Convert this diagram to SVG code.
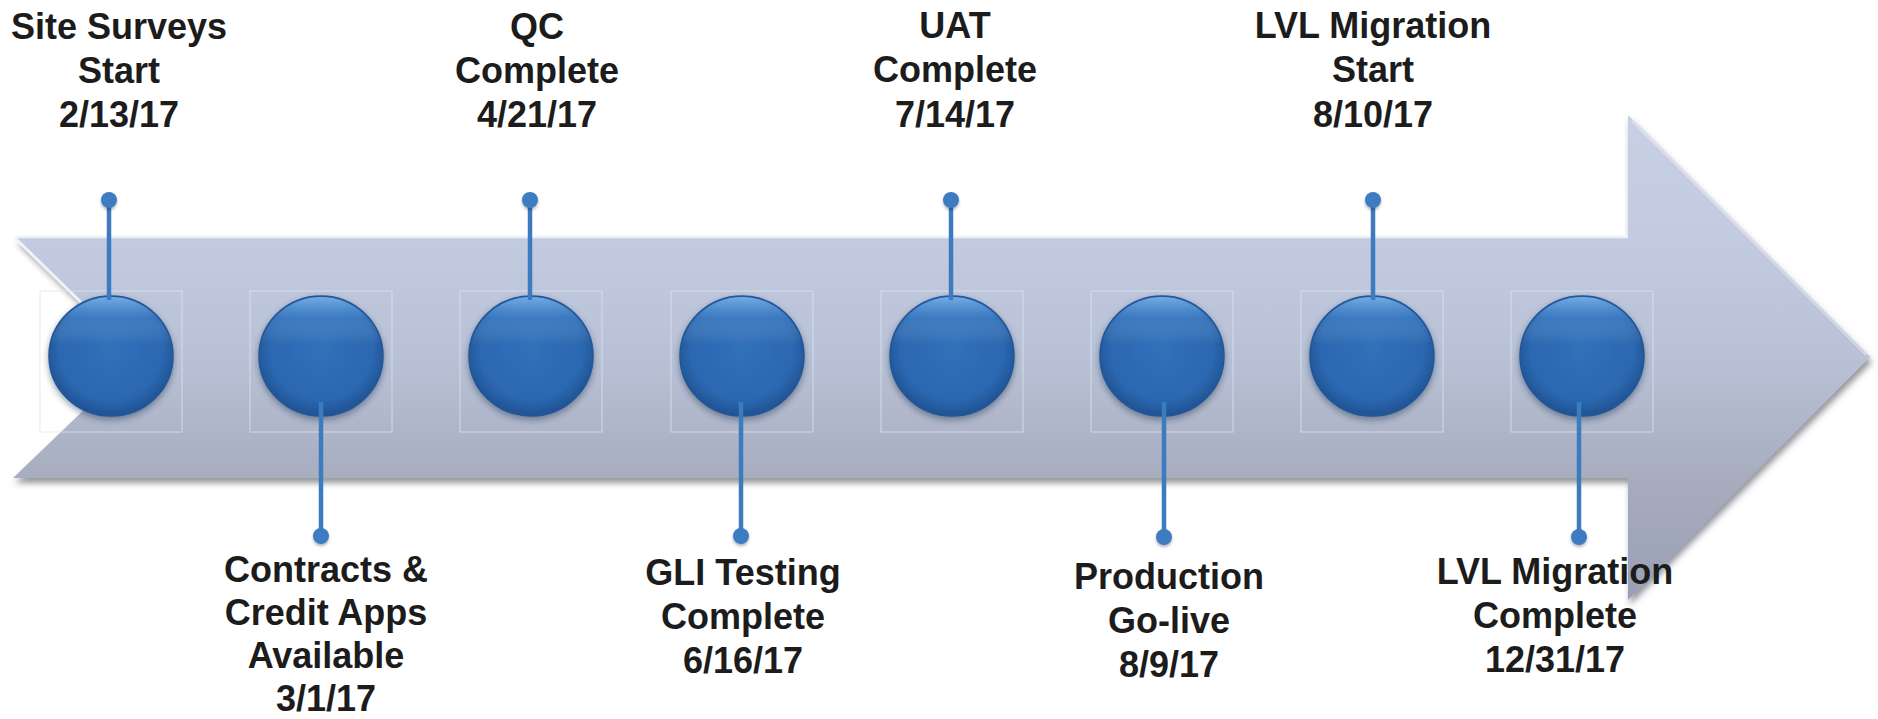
<svg xmlns="http://www.w3.org/2000/svg" width="1878" height="719" viewBox="0 0 1878 719">
<defs>
  <linearGradient id="arrowFill" x1="0" y1="115" x2="0" y2="600" gradientUnits="userSpaceOnUse">
    <stop offset="0" stop-color="#c8d0e4"/>
    <stop offset="0.25" stop-color="#c3cbe0"/>
    <stop offset="0.5" stop-color="#b9c1d6"/>
    <stop offset="0.75" stop-color="#a7adbf"/>
    <stop offset="1" stop-color="#9aa0b3"/>
  </linearGradient>
  <radialGradient id="ballFill" cx="0.5" cy="0.45" r="0.55">
    <stop offset="0" stop-color="#3170ba"/>
    <stop offset="0.75" stop-color="#2c68b1"/>
    <stop offset="1" stop-color="#1f5292"/>
  </radialGradient>
  <linearGradient id="ballShine" x1="0" y1="0" x2="0" y2="1">
    <stop offset="0" stop-color="#8cc4f5" stop-opacity="0.75"/>
    <stop offset="0.18" stop-color="#6aaaea" stop-opacity="0.25"/>
    <stop offset="0.4" stop-color="#ffffff" stop-opacity="0"/>
  </linearGradient>
  <filter id="arrowShadow" x="-5%" y="-10%" width="110%" height="125%">
    <feDropShadow dx="2" dy="5" stdDeviation="3" flood-color="#3a3f4a" flood-opacity="0.55"/>
  </filter>
  <filter id="ballShadow" x="-30%" y="-30%" width="160%" height="160%">
    <feDropShadow dx="0" dy="3" stdDeviation="3" flood-color="#1a2a45" flood-opacity="0.45"/>
  </filter>
  <filter id="pinShadow" x="-50%" y="-50%" width="200%" height="200%">
    <feDropShadow dx="0" dy="2" stdDeviation="1.5" flood-color="#000" flood-opacity="0.3"/>
  </filter>
  <style>
    .lbl { font-family: "Liberation Sans", Arial, sans-serif; font-weight: bold; font-size: 36px; fill: #1c1c1c; text-anchor: middle; }
    .frame { fill: none; stroke: #dfe4f0; stroke-width: 1; stroke-opacity: 0.75; }
    .ball { fill: url(#ballFill); stroke: #215797; stroke-width: 1.5; filter: url(#ballShadow); }
    .shine { fill: url(#ballShine); }
    .pin { stroke: #3c7bc0; stroke-width: 4.5; fill: none; }
    .dot { fill: #3c7bc0; filter: url(#pinShadow); }
  </style>
</defs>
<rect x="0" y="0" width="1878" height="719" fill="#ffffff"/>

<g id="arrow">
  <path d="M15,238 L1628,238 L1628,115 L1870,357 L1628,600 L1628,478 L13,478 L138,358 Z" fill="url(#arrowFill)" filter="url(#arrowShadow)"/>
  <path d="M15,237 L1628,237" stroke="#eef1f8" stroke-width="2.5" fill="none"/>
  <path d="M15,238 L138,358" stroke="#f4f6fb" stroke-width="3" fill="none" opacity="0.9"/>
  <path d="M1632,121 L1866,355" stroke="#f0f2fa" stroke-width="1.5" fill="none" opacity="0.6"/>
</g>

<g id="node-1">
  <rect class="frame" x="40" y="291" width="142" height="141"/>
  <ellipse class="ball" cx="111" cy="356" rx="62" ry="60"/>
  <ellipse class="shine" cx="111" cy="356" rx="61" ry="59"/>
  <text class="lbl" x="119" y="39">Site Surveys</text>
  <text class="lbl" x="119" y="83">Start</text>
  <text class="lbl" x="119" y="127">2/13/17</text>
</g>
<g id="node-2">
  <rect class="frame" x="250" y="291" width="142" height="141"/>
  <ellipse class="ball" cx="321" cy="356" rx="62" ry="60"/>
  <ellipse class="shine" cx="321" cy="356" rx="61" ry="59"/>
  <text class="lbl" x="326" y="582">Contracts &amp;</text>
  <text class="lbl" x="326" y="625">Credit Apps</text>
  <text class="lbl" x="326" y="668">Available</text>
  <text class="lbl" x="326" y="711">3/1/17</text>
</g>
<g id="node-3">
  <rect class="frame" x="460" y="291" width="142" height="141"/>
  <ellipse class="ball" cx="531" cy="356" rx="62" ry="60"/>
  <ellipse class="shine" cx="531" cy="356" rx="61" ry="59"/>
  <text class="lbl" x="537" y="39">QC</text>
  <text class="lbl" x="537" y="83">Complete</text>
  <text class="lbl" x="537" y="127">4/21/17</text>
</g>
<g id="node-4">
  <rect class="frame" x="671" y="291" width="142" height="141"/>
  <ellipse class="ball" cx="742" cy="356" rx="62" ry="60"/>
  <ellipse class="shine" cx="742" cy="356" rx="61" ry="59"/>
  <text class="lbl" x="743" y="585">GLI Testing</text>
  <text class="lbl" x="743" y="629">Complete</text>
  <text class="lbl" x="743" y="673">6/16/17</text>
</g>
<g id="node-5">
  <rect class="frame" x="881" y="291" width="142" height="141"/>
  <ellipse class="ball" cx="952" cy="356" rx="62" ry="60"/>
  <ellipse class="shine" cx="952" cy="356" rx="61" ry="59"/>
  <text class="lbl" x="955" y="38">UAT</text>
  <text class="lbl" x="955" y="82">Complete</text>
  <text class="lbl" x="955" y="127">7/14/17</text>
</g>
<g id="node-6">
  <rect class="frame" x="1091" y="291" width="142" height="141"/>
  <ellipse class="ball" cx="1162" cy="356" rx="62" ry="60"/>
  <ellipse class="shine" cx="1162" cy="356" rx="61" ry="59"/>
  <text class="lbl" x="1169" y="589">Production</text>
  <text class="lbl" x="1169" y="633">Go-live</text>
  <text class="lbl" x="1169" y="677">8/9/17</text>
</g>
<g id="node-7">
  <rect class="frame" x="1301" y="291" width="142" height="141"/>
  <ellipse class="ball" cx="1372" cy="356" rx="62" ry="60"/>
  <ellipse class="shine" cx="1372" cy="356" rx="61" ry="59"/>
  <text class="lbl" x="1373" y="38">LVL Migration</text>
  <text class="lbl" x="1373" y="82">Start</text>
  <text class="lbl" x="1373" y="127">8/10/17</text>
</g>
<g id="node-8">
  <rect class="frame" x="1511" y="291" width="142" height="141"/>
  <ellipse class="ball" cx="1582" cy="356" rx="62" ry="60"/>
  <ellipse class="shine" cx="1582" cy="356" rx="61" ry="59"/>
  <text class="lbl" x="1555" y="584">LVL Migration</text>
  <text class="lbl" x="1555" y="628">Complete</text>
  <text class="lbl" x="1555" y="672">12/31/17</text>
</g>

<g id="connectors">
  <line class="pin" x1="109" y1="200" x2="109" y2="300"/>
  <circle class="dot" cx="109" cy="200" r="8"/>
  <line class="pin" x1="321" y1="402" x2="321" y2="536"/>
  <circle class="dot" cx="321" cy="536" r="8"/>
  <line class="pin" x1="530" y1="200" x2="530" y2="300"/>
  <circle class="dot" cx="530" cy="200" r="8"/>
  <line class="pin" x1="741" y1="402" x2="741" y2="536"/>
  <circle class="dot" cx="741" cy="536" r="8"/>
  <line class="pin" x1="951" y1="200" x2="951" y2="300"/>
  <circle class="dot" cx="951" cy="200" r="8"/>
  <line class="pin" x1="1164" y1="402" x2="1164" y2="537"/>
  <circle class="dot" cx="1164" cy="537" r="8"/>
  <line class="pin" x1="1373" y1="200" x2="1373" y2="300"/>
  <circle class="dot" cx="1373" cy="200" r="8"/>
  <line class="pin" x1="1579" y1="402" x2="1579" y2="537"/>
  <circle class="dot" cx="1579" cy="537" r="8"/>
</g>
</svg>
